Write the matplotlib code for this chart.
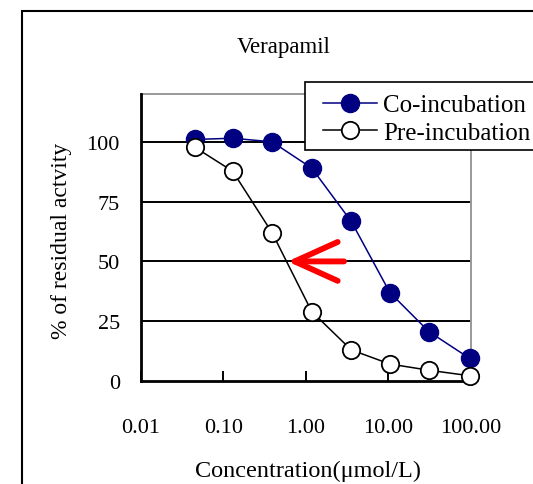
import matplotlib
matplotlib.use("Agg")
import matplotlib.pyplot as plt
from matplotlib.patches import Rectangle

plt.rcParams['font.family'] = ['Liberation Serif', 'DejaVu Serif']

# concentrations (umol/L) and % residual activity
conc = [0.045, 0.13, 0.39, 1.18, 3.55, 10.4, 31.0, 96.0]
co_incubation = [101.0, 101.5, 100.0, 89.0, 66.7, 37.0, 20.6, 9.5]
pre_incubation = [97.8, 87.7, 62.0, 29.0, 13.0, 7.1, 4.5, 2.2]

xticks = [0.01, 0.1, 1, 10, 100]
xtick_labels = ['0.01', '0.10', '1.00', '10.00', '100.00']
yticks = [0, 25, 50, 75, 100]

# shift arrow at 50 % (from co- to pre-incubation)
arrow_from = 2.9
arrow_to = 0.6
arrow_level = 50

W, H = 533, 485
fig = plt.figure(figsize=(W / 100, H / 100), dpi=100)
ax = fig.add_axes([140.7 / W, 1 - 382 / H, (471 - 140.7) / W, (382 - 95) / H])

ax.plot(conc, co_incubation, color='#000080', lw=1.1, marker='o', ms=13,
        mfc='#000080', mec='#000080', mew=1.0, label='Co-incubation',
        zorder=7, clip_on=False)
ax.plot(conc, pre_incubation, color='black', lw=1.1, marker='o', ms=12.5,
        mfc='white', mec='black', mew=1.3, label='Pre-incubation',
        zorder=8, clip_on=False)

ax.set_xscale('log')
ax.set_xlim(0.01, 100)
ax.set_ylim(0, 120)
ax.set_xticks(xticks)
ax.set_xticklabels(xtick_labels)
ax.minorticks_off()
ax.set_yticks(yticks)
for y in yticks[1:]:
    ax.axhline(y, color='black', lw=1.4, zorder=1)

ax.tick_params(axis='x', direction='in', length=7, width=1.4, labelsize=16, pad=27)
ax.tick_params(axis='y', direction='in', length=0, labelsize=16, pad=15)
for s in ['left', 'bottom']:
    ax.spines[s].set_linewidth(2)
    ax.spines[s].set_color('black')
for s in ['top', 'right']:
    ax.spines[s].set_linewidth(1.4)
    ax.spines[s].set_color('#999999')
ax.spines['left'].set_zorder(6)
ax.spines['bottom'].set_zorder(6)

ax.annotate('', xy=(arrow_to, arrow_level), xytext=(arrow_from, arrow_level),
            arrowprops=dict(arrowstyle='->, head_length=3.1, head_width=1.4',
                            color='#ff0000', lw=4.2, mutation_scale=10,
                            capstyle='round', joinstyle='round',
                            shrinkA=0, shrinkB=0), zorder=3)

# outer frame
fig.patches.append(Rectangle((21.5 / W, -0.1), 1.2, 1 - 12.3 / H + 0.1,
                             transform=fig.transFigure, fill=False,
                             edgecolor='black', lw=1.5))

# legend box running off the right side
fig.patches.append(Rectangle((305 / W, 1 - 150.7 / H), 0.6, (150.7 - 83.3) / H,
                             transform=fig.transFigure, facecolor='white',
                             edgecolor='black', lw=1.2, zorder=8))
leg = fig.legend(loc='upper left', bbox_to_anchor=(323 / W, 1 - 95 / H),
                 frameon=False, fontsize=18, borderpad=0, borderaxespad=0,
                 handlelength=2.16, handletextpad=0.25, labelspacing=0.2)
leg.set_zorder(9)

fig.text(284 / W, 1 - 47 / H, 'Verapamil', ha='center', va='center', fontsize=16.5)
fig.text(61 / W, 1 - 241 / H, '% of residual actvity', ha='center', va='center',
         rotation=90, fontsize=17)
fig.text(307.5 / W, 1 - 471 / H, 'Concentration(\u03bcmol/L)', ha='center',
         va='center', fontsize=17.5)

fig.savefig('out.png', dpi=100)
